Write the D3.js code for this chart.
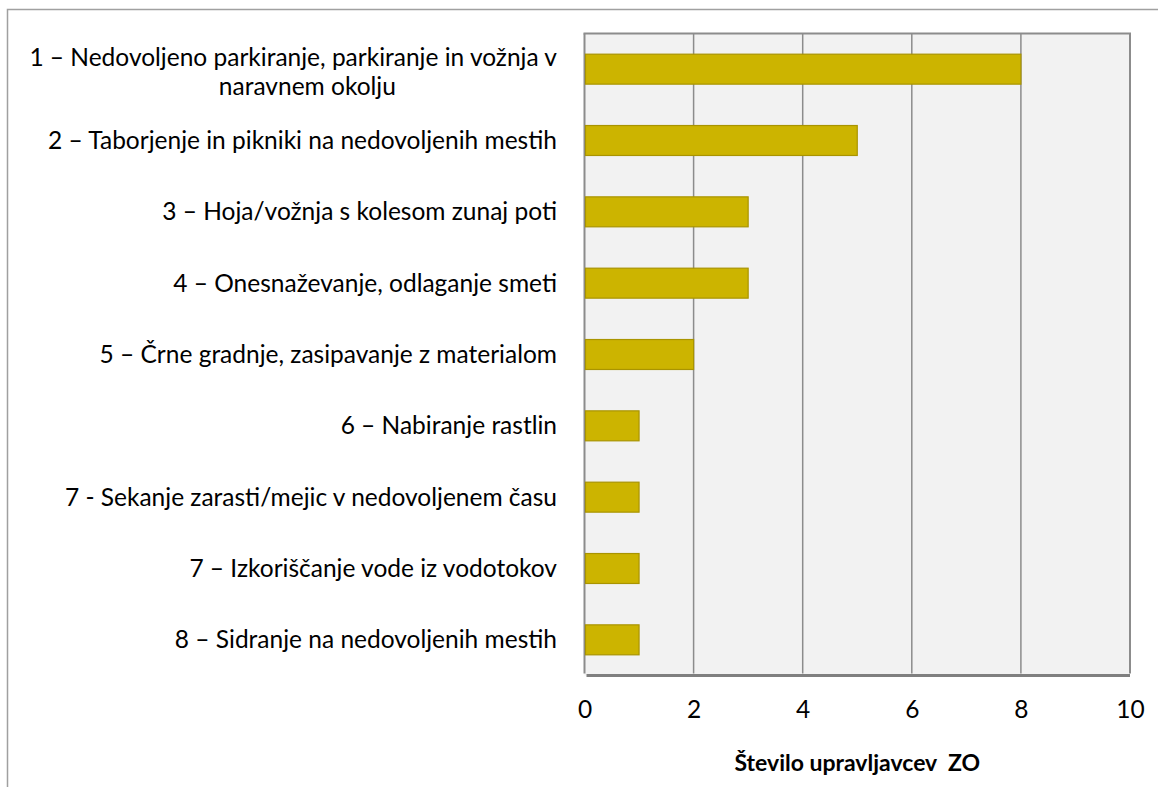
<!DOCTYPE html>
<html><head><meta charset="utf-8">
<script src="https://cdn.jsdelivr.net/npm/d3@7"></script>
<style>body{margin:0;background:#fff}svg{display:block}</style>
</head><body>
<script>
const categories = [
  ["1 – Nedovoljeno parkiranje, parkiranje in vožnja v", "naravnem okolju"],
  ["2 – Taborjenje in pikniki na nedovoljenih mestih"],
  ["3 – Hoja/vožnja s kolesom zunaj poti"],
  ["4 – Onesnaževanje, odlaganje smeti"],
  ["5 – Črne gradnje, zasipavanje z materialom"],
  ["6 – Nabiranje rastlin"],
  ["7 - Sekanje zarasti/mejic v nedovoljenem času"],
  ["7 – Izkoriščanje vode iz vodotokov"],
  ["8 – Sidranje na nedovoljenih mestih"]
];
const values = [8, 5, 3, 3, 2, 1, 1, 1, 1];
const xTicks = [0, 2, 4, 6, 8, 10];
const axisTitle = "Število upravljavcev  ZO";

const W = 1158, H = 787;
const L = 584.5, R = 1130, T = 33.5, B = 675.5;
const font = "Lato, 'Open Sans', sans-serif";
const FS = 24.5;

const svg = d3.select("body").append("svg").attr("width", W).attr("height", H);
svg.append("rect").attr("x", 7.5).attr("y", 9.5).attr("width", W + 20).attr("height", H + 20)
  .attr("fill", "#fff").attr("stroke", "#a0a0a0").attr("stroke-width", 1.5);

const x = d3.scaleLinear().domain([0, 10]).range([L, R]);
const y = d3.scaleBand().domain(d3.range(categories.length)).range([T, B]).paddingInner(0.58).paddingOuter(0.29);

svg.append("rect").attr("x", L).attr("y", T).attr("width", R - L).attr("height", B - T)
  .attr("fill", "#f2f2f2");

svg.append("g").selectAll("line").data(xTicks).join("line")
  .attr("x1", d => x(d)).attr("x2", d => x(d)).attr("y1", T).attr("y2", B - 2)
  .attr("stroke", "#8c8c8c").attr("stroke-width", d => (d === 0 || d === 10) ? 2 : 1.5);
svg.append("line").attr("x1", L - 1).attr("x2", R + 1).attr("y1", T).attr("y2", T)
  .attr("stroke", "#8c8c8c").attr("stroke-width", 2);

svg.append("g").selectAll("rect").data(values).join("rect")
  .attr("x", x(0) + 1).attr("y", (d, i) => y(i))
  .attr("width", d => x(d) - x(0) - 1).attr("height", y.bandwidth())
  .attr("fill", "#ccb400").attr("stroke", "#a99400").attr("stroke-width", 1.2);

svg.append("line").attr("x1", L + 2).attr("x2", R).attr("y1", B).attr("y2", B)
  .attr("stroke", "#7f7f7f").attr("stroke-width", 3);

const xa = svg.append("g").attr("transform", `translate(0,${B})`)
  .call(d3.axisBottom(x).tickValues(xTicks).tickSize(0).tickPadding(25));
xa.select(".domain").remove();
xa.selectAll("text").attr("font-family", font).attr("font-size", FS).attr("fill", "#000");

const lab = svg.append("g");
categories.forEach((lines, i) => {
  const cy = y(i) + y.bandwidth() / 2;
  if (lines.length === 1) {
    lab.append("text").attr("x", 557).attr("y", cy).attr("dy", "0.35em")
      .attr("text-anchor", "end").attr("font-family", font).attr("font-size", FS).text(lines[0]);
  } else {
    const t1 = lab.append("text").attr("x", 557).attr("y", cy - 12).attr("dy", "0.35em")
      .attr("text-anchor", "end").attr("font-family", font).attr("font-size", FS).text(lines[0]);
    const bb = t1.node().getBBox();
    lab.append("text").attr("x", bb.x + bb.width / 2 + 14).attr("y", cy + 17).attr("dy", "0.35em")
      .attr("text-anchor", "middle").attr("font-family", font).attr("font-size", FS).text(lines[1]);
  }
});

svg.append("text").attr("x", (L + R) / 2).attr("y", 763).attr("dy", "0.35em")
  .attr("text-anchor", "middle").attr("font-family", font).attr("font-size", 23)
  .attr("font-weight", "bold").style("white-space", "pre").text(axisTitle);
</script>
</body></html>
